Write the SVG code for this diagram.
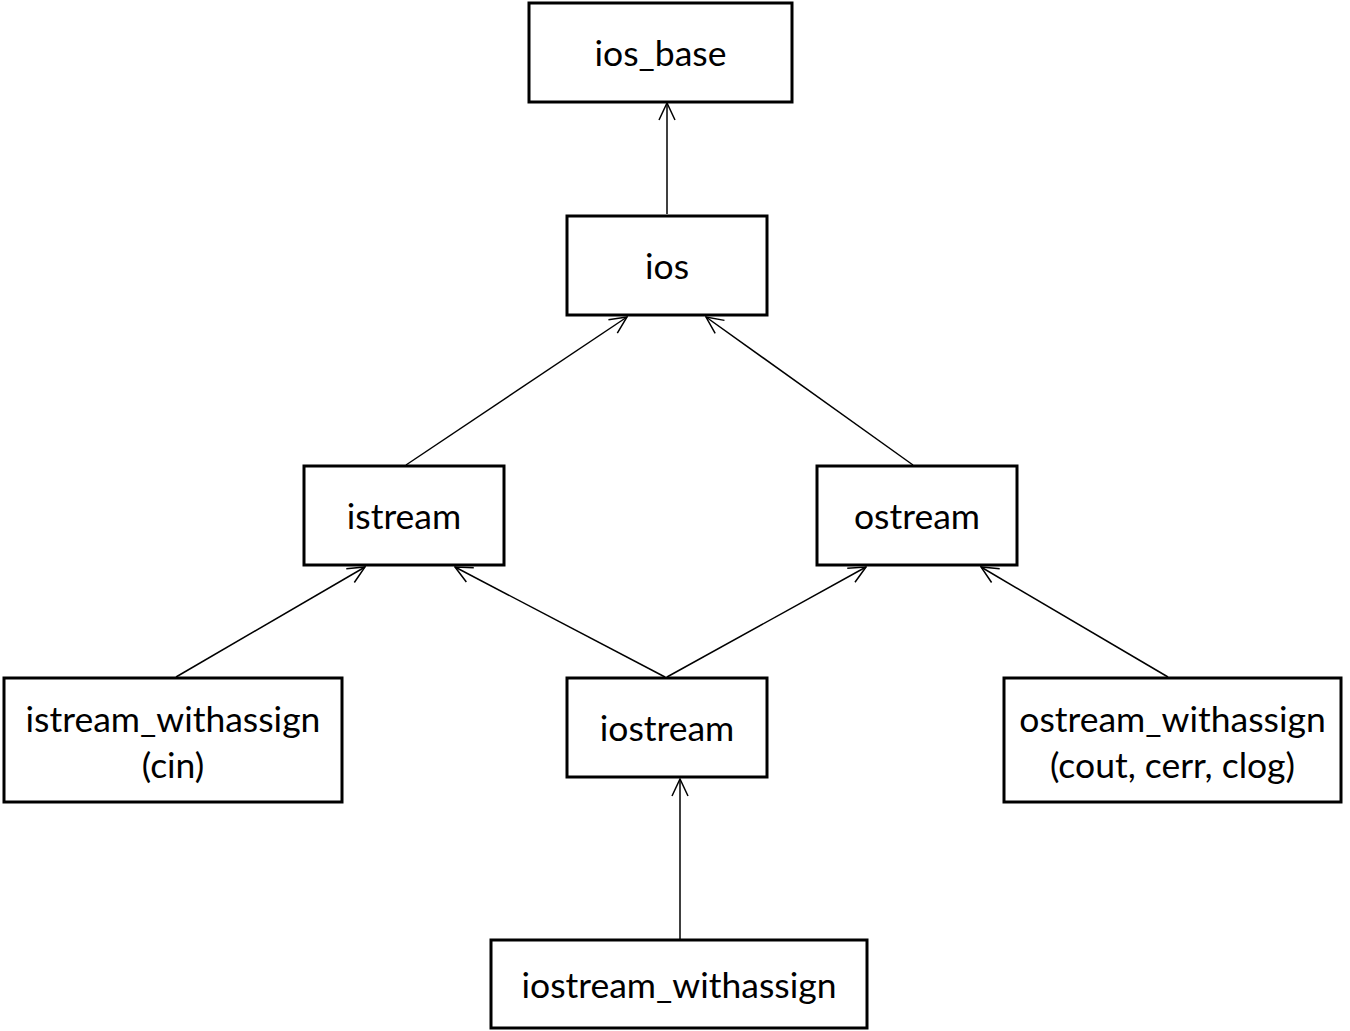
<svg xmlns="http://www.w3.org/2000/svg" width="1350" height="1031" viewBox="0 0 1350 1031">
<style>
.box{fill:#fff;stroke:#000;stroke-width:3}
.lbl{font-family:"Lato","Liberation Sans",sans-serif;font-size:35.5px;fill:#000;text-anchor:middle}
.edge{stroke:#000;stroke-width:1.5;fill:none;marker-end:url(#arr)}
</style>
<defs>
<marker id="arr" viewBox="0 0 20 20" refX="19" refY="10" markerWidth="20" markerHeight="20" markerUnits="userSpaceOnUse" orient="auto">
<path d="M2,2 L19,10 L2,18" fill="none" stroke="#000" stroke-width="1.5"/>
</marker>
</defs>
<rect width="1350" height="1031" fill="#fff"/>
<g id="connectors">
<line class="edge" x1="667" y1="214" x2="667" y2="103"/>
<line class="edge" x1="406" y1="465" x2="627" y2="317"/>
<line class="edge" x1="913" y1="465" x2="706" y2="317"/>
<line class="edge" x1="176" y1="677" x2="365" y2="567"/>
<line class="edge" x1="665" y1="677" x2="455" y2="567"/>
<line class="edge" x1="667" y1="677" x2="866" y2="567"/>
<line class="edge" x1="1168" y1="677" x2="981" y2="567"/>
<line class="edge" x1="680" y1="939" x2="680" y2="779"/>
</g>
<g id="ios_base"><rect class="box" x="529" y="3" width="263" height="99"/><text class="lbl" x="660.5" y="66">ios_base</text></g>
<g id="ios"><rect class="box" x="567" y="216" width="200" height="99"/><text class="lbl" x="667" y="279">ios</text></g>
<g id="istream"><rect class="box" x="304" y="466" width="200" height="99"/><text class="lbl" x="404" y="529">istream</text></g>
<g id="ostream"><rect class="box" x="817" y="466" width="200" height="99"/><text class="lbl" x="917" y="529">ostream</text></g>
<g id="istream_withassign"><rect class="box" x="4" y="678" width="338" height="124"/><text class="lbl" x="173" y="732">istream_withassign</text><text class="lbl" x="173" y="778">(cin)</text></g>
<g id="iostream"><rect class="box" x="567" y="678" width="200" height="99"/><text class="lbl" x="667" y="741">iostream</text></g>
<g id="ostream_withassign"><rect class="box" x="1004" y="678" width="337" height="124"/><text class="lbl" x="1172.5" y="732">ostream_withassign</text><text class="lbl" x="1172.5" y="778">(cout, cerr, clog)</text></g>
<g id="iostream_withassign"><rect class="box" x="491" y="940" width="376" height="88"/><text class="lbl" x="679" y="998">iostream_withassign</text></g>
</svg>
